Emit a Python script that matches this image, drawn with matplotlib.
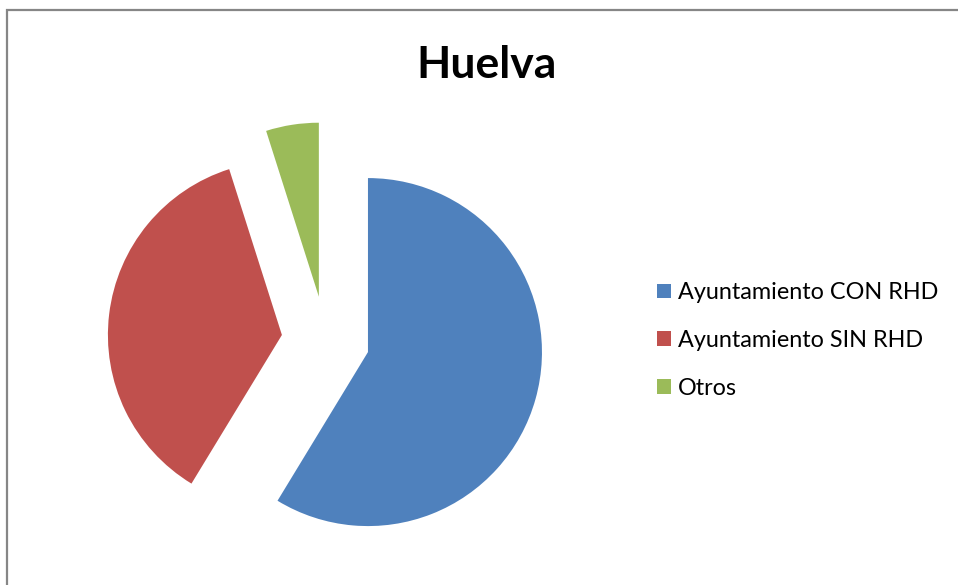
import matplotlib.pyplot as plt
from matplotlib.patches import Rectangle

plt.rcParams['font.family'] = ['Lato', 'DejaVu Sans']

# data
labels = ["Ayuntamiento CON RHD", "Ayuntamiento SIN RHD", "Otros"]
values = [58.7, 36.4, 4.9]
colors = ["#4F81BD", "#C0504D", "#9BBB59"]

W, H = 958, 585
fig = plt.figure(figsize=(W/100, H/100), dpi=100)
ax = fig.add_axes([0, 0, 1, 1])

# pie in pixel-like coordinates (y up)
R = 174
cx, cy = 325.6, H - 340.2
wedges, _ = ax.pie(values, colors=colors, startangle=90, counterclock=False,
                   radius=R, center=(cx, cy), explode=[44]*3,
                   wedgeprops=dict(linewidth=0))

ax.set_xlim(0, W)
ax.set_ylim(0, H)
ax.set_aspect('auto')
ax.axis('off')

# chart frame
ax.add_patch(Rectangle((7, -5), W, H - 10 + 5, fill=False,
                       edgecolor='#868686', linewidth=1.6, clip_on=False))

fig.text(487/W, 1 - 65/H, "Huelva", ha='center', va='center',
         fontsize=32, fontweight='bold')

ax.legend(wedges, labels, loc='upper left', bbox_to_anchor=(657.5, H - 282),
          bbox_transform=ax.transData, frameon=False, fontsize=16.8,
          handlelength=0.56, handleheight=0.56, handletextpad=0.3,
          labelspacing=1.15, borderpad=0, borderaxespad=0)

fig.savefig("out.png", dpi=100)
